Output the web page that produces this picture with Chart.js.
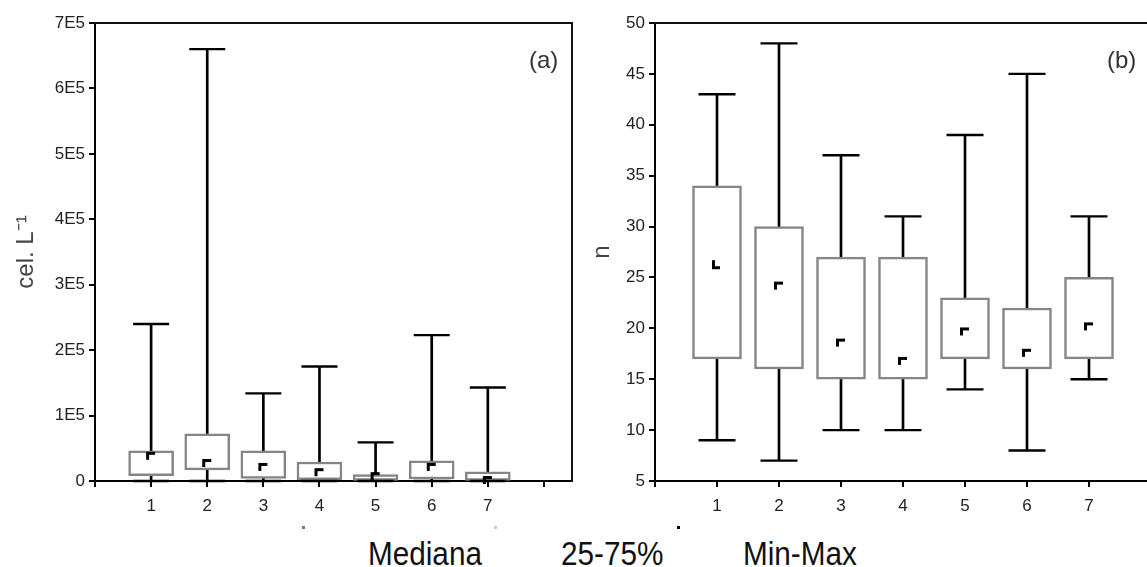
<!DOCTYPE html>
<html><head><meta charset="utf-8">
<script src="https://cdn.jsdelivr.net/npm/chart.js@4.4.1/dist/chart.umd.min.js"></script>
<style>
html,body{margin:0;padding:0;background:#fff;width:1147px;height:567px;overflow:hidden;position:relative}
#wa{position:absolute;left:0;top:0;width:600px;height:520px}
#wb{position:absolute;left:560px;top:0;width:650px;height:520px}
.t{position:absolute;font-family:"Liberation Sans",Arial,sans-serif;color:#222;white-space:nowrap;line-height:1}
.leg{font-size:33px;transform:scaleX(0.9);transform-origin:left top;color:#111}
.pl{font-size:24px;color:#333}
.dot{position:absolute;width:3px;height:3px}
</style></head>
<body>
<div id="wa"><canvas id="ca"></canvas></div>
<div id="wb"><canvas id="cb"></canvas></div>
<div class="t pl" style="left:529px;top:48px">(a)</div>
<div class="t pl" style="left:1107px;top:48px">(b)</div>
<div class="dot" style="left:302px;top:526px;background:#777"></div>
<div class="dot" style="left:494px;top:526px;background:#ccc"></div>
<div class="dot" style="left:677px;top:526px;background:#000"></div>
<div class="t leg" style="left:368px;top:537px">Mediana</div>
<div class="t leg" style="left:561px;top:537px">25-75%</div>
<div class="t leg" style="left:743px;top:537px">Min-Max</div>
<script>
// ---- data ----
const categories = [1, 2, 3, 4, 5, 6, 7];
const xTickLabels = ['', '1', '2', '3', '4', '5', '6', '7', ''];

const aMin    = [0, 0, 0, 0, 0, 0, 0];
const aQ1     = [8000, 17000, 4000, 2000, 1000, 3000, 1000];
const aMedian = [37000, 26000, 20000, 12000, 6000, 20000, 0];
const aQ3     = [46000, 72000, 46000, 29000, 10000, 31000, 14000];
const aMax    = [240000, 660000, 134000, 175000, 59000, 223000, 143000];
const aTickLabels = ['0', '1E5', '2E5', '3E5', '4E5', '5E5', '6E5', '7E5'];

const bMin    = [9, 7, 10, 10, 14, 8, 15];
const bQ1     = [17, 16, 15, 15, 17, 16, 17];
const bMedian = [26.3, 24.1, 18.5, 16.7, 19.6, 17.5, 20.1];
const bQ3     = [34, 30, 27, 27, 23, 22, 25];
const bMax    = [43, 48, 37, 31, 39, 45, 31];
const bTickLabels = ['5', '10', '15', '20', '25', '30', '35', '40', '45', '50'];

// ---- median glyph ----
function glyph() {
  const c = document.createElement('canvas');
  c.width = 12; c.height = 12;
  const g = c.getContext('2d');
  g.fillStyle = '#000';
  g.fillRect(1, 1, 9, 3);
  g.fillRect(1, 1, 3, 8);
  return c;
}
const G = glyph();

function datasets(mn, q1, md, q3, mx, boxW, capR, rot) {
  return [
    { type: 'line', data: categories.map((c, i) => ({x: c, y: md[i]})), showLine: false,
      pointStyle: G, pointRadius: 6, pointRotation: rot, clip: false, order: 0 },
    { type: 'line', data: categories.map((c, i) => ({x: c, y: mn[i]})).concat(categories.map((c, i) => ({x: c, y: mx[i]}))),
      showLine: false, pointStyle: 'line', pointRadius: capR, pointBorderColor: '#000',
      pointBorderWidth: 2.4, clip: false, order: 1 },
    { type: 'bar', data: categories.map((c, i) => ({x: c, y: [q1[i], q3[i]]})), backgroundColor: '#fff',
      borderColor: '#858585', borderWidth: 2.5, borderSkipped: false, barThickness: boxW, grouped: false, order: 2 },
    { type: 'bar', data: categories.map((c, i) => ({x: c, y: [mn[i], mx[i]]})), backgroundColor: '#000',
      borderWidth: 0, barThickness: 2, grouped: false, order: 3 }
  ];
}

const tickFont = {family: '"Liberation Sans", Arial, sans-serif', size: 17};

function options(yMin, yMax, yStep, yLabels, title, titlePad, padRight) {
  return {
    responsive: true, maintainAspectRatio: false, animation: false,
    layout: {padding: {top: 23, right: padRight, left: 0, bottom: 0}},
    plugins: {legend: {display: false}, tooltip: {enabled: false}},
    scales: {
      x: {type: 'linear', min: 0, max: 8.5, offset: false,
        grid: {display: true, drawOnChartArea: false, drawTicks: true, tickLength: 6, color: '#000', lineWidth: 2, offset: false},
        border: {display: true, color: '#000', width: 2},
        ticks: {stepSize: 1, includeBounds: false, autoSkip: false, maxRotation: 0, padding: 9, color: '#222', font: tickFont,
          callback: (v, i) => xTickLabels[i] ?? ''},
        afterFit: s => { s.height = 39; s.paddingLeft = 0; s.paddingRight = 0; }
      },
      y: {type: 'linear', min: yMin, max: yMax,
        grid: {display: true, drawOnChartArea: false, drawTicks: true, tickLength: 6, color: '#000', lineWidth: 2},
        border: {display: true, color: '#000', width: 2},
        ticks: {stepSize: yStep, padding: 4, color: '#222', font: tickFont, callback: (v, i) => yLabels[i]},
        title: {display: true, text: title, color: '#444', font: {family: '"Liberation Sans", Arial, sans-serif', size: 24}, padding: {top: titlePad, bottom: 0}},
        afterFit: s => { s.width = 95; s.paddingTop = 0; s.paddingBottom = 0; }
      },
      x2: {type: 'linear', position: 'top', min: 0, max: 1, grid: {display: false}, ticks: {display: false},
        border: {display: true, color: '#111', width: 2}, afterFit: s => { s.height = 0; s.paddingLeft = 0; s.paddingRight = 0; }},
      y2: {type: 'linear', position: 'right', min: 0, max: 1, grid: {display: false}, ticks: {display: false},
        border: {display: true, color: '#111', width: 2}, afterFit: s => { s.width = 0; }}
    }
  };
}

new Chart(document.getElementById('ca'), {
  type: 'bar',
  data: {datasets: datasets(aMin, aQ1, aMedian, aQ3, aMax, 45, 18, 0)},
  options: options(0, 700000, 100000, aTickLabels, 'cel. L\u207B\u00B9', 12, 28)
});
new Chart(document.getElementById('cb'), {
  type: 'bar',
  data: {datasets: datasets(bMin, bQ1, bMedian, bQ3, bMax, 49, 18.5, [270, 0, 0, 0, 0, 0, 0])},
  options: options(5, 50, 5, bTickLabels, 'n', 28, 28)
});
</script>
</body></html>
